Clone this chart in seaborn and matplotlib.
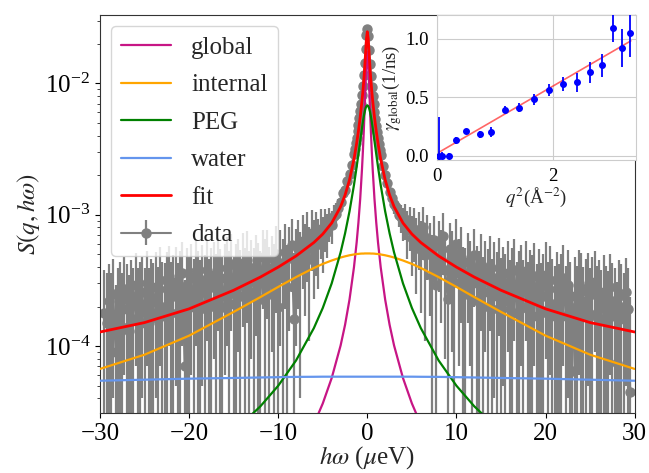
import numpy as np
import matplotlib
matplotlib.use("Agg")
import matplotlib.pyplot as plt
import seaborn as sns

# model curves (symmetric in energy), half grid hw >= 0
curve_x_half = [0, 0.1, 0.2, 0.3, 0.4, 0.5, 0.6, 0.8, 1.0, 1.2, 1.5, 2, 2.5, 3,
                4, 5, 6, 8, 10, 12, 15, 20, 25, 30]
global_half = [1.73e-2, 1.455e-2, 9.86e-3, 6.41e-3, 4.30e-3, 3.03e-3, 2.22e-3,
               1.32e-3, 8.71e-4, 6.14e-4, 3.98e-4, 2.26e-4, 1.45e-4, 1.01e-4,
               5.71e-5, 3.66e-5, 2.54e-5, 1.43e-5, 9.2e-6, 6.4e-6, 4.1e-6,
               2.3e-6, 1.5e-6, 1.0e-6]
internal_half = [5.07e-4, 5.07e-4, 5.07e-4, 5.07e-4, 5.06e-4, 5.06e-4, 5.06e-4,
                 5.05e-4, 5.03e-4, 5.02e-4, 4.98e-4, 4.91e-4, 4.82e-4, 4.72e-4,
                 4.48e-4, 4.22e-4, 3.93e-4, 3.35e-4, 2.82e-4, 2.36e-4, 1.82e-4,
                 1.20e-4, 8.6e-5, 6.7e-5]
peg_half = [6.80e-3, 6.71e-3, 6.45e-3, 6.06e-3, 5.59e-3, 5.08e-3, 4.57e-3,
            3.64e-3, 2.89e-3, 2.31e-3, 1.68e-3, 1.06e-3, 7.20e-4, 5.16e-4,
            3.00e-4, 1.95e-4, 1.37e-4, 7.77e-5, 4.99e-5, 3.48e-5, 2.23e-5,
            1.26e-5, 8.0e-6, 5.6e-6]
water_half = [5.85e-5, 5.85e-5, 5.85e-5, 5.85e-5, 5.85e-5, 5.85e-5, 5.85e-5,
              5.85e-5, 5.85e-5, 5.85e-5, 5.85e-5, 5.85e-5, 5.85e-5, 5.85e-5,
              5.85e-5, 5.85e-5, 5.84e-5, 5.83e-5, 5.80e-5, 5.77e-5, 5.72e-5,
              5.65e-5, 5.55e-5, 5.45e-5]
fit_half = [2.467e-2, 2.183e-2, 1.688e-2, 1.304e-2, 1.046e-2, 8.68e-3, 7.36e-3,
            5.52e-3, 4.32e-3, 3.49e-3, 2.64e-3, 1.84e-3, 1.41e-3, 1.15e-3,
            8.64e-4, 7.12e-4, 6.14e-4, 4.85e-4, 3.99e-4, 3.35e-4, 2.66e-4,
            1.92e-4, 1.51e-4, 1.28e-4]

# measured spectrum: left wing, centre, right wing
left_x = [-29.5, -29.25, -29, -28.75, -28.5, -28.25, -28, -27.75,
          -27.5, -27.25, -27, -26.75, -26.5, -26.25, -26, -25.75,
          -25.5, -25.25, -25, -24.75, -24.5, -24.25, -24, -23.75,
          -23.5, -23.25, -23, -22.75, -22.5, -22.25, -22, -21.75,
          -21.5, -21.25, -21, -20.75, -20.5, -20.25, -20, -19.75,
          -19.5, -19.25, -19, -18.75, -18.5, -18.25, -18, -17.75,
          -17.5, -17.25, -17, -16.75, -16.5, -16.25, -16, -15.75,
          -15.5, -15.25, -15, -14.75, -14.5, -14.25, -14, -13.75,
          -13.5, -13.25, -13, -12.75, -12.5, -12.25, -12, -11.75,
          -11.5, -11.25, -11, -10.75, -10.5, -10.25, -10, -9.75,
          -9.5, -9.25, -9, -8.75, -8.5, -8.25, -8, -7.75,
          -7.5, -7.25, -7, -6.75, -6.5, -6.25, -6, -5.75,
          -5.5, -5.25, -5, -4.75, -4.5, -4.25, -4, -3.75,
          -3.5, -3.25]
left_y = [1.8e-4, 1.5e-4, 2.2e-4, 1.4e-4, 2.5e-4, 9.0e-5, 1.7e-4, 2.3e-4,
          1.4e-4, 2.7e-4, 1.9e-4, 1.3e-4, 2.4e-4, 1.6e-4, 2.9e-4, 1.6e-4,
          2.1e-4, 2.6e-4, 1.5e-4, 3.0e-4, 1.5e-4, 2.3e-4, 1.8e-4, 2.8e-4,
          1.6e-4, 3.2e-4, 2.0e-4, 1.7e-4, 2.7e-4, 3.4e-4, 1.8e-4, 2.4e-4,
          3.1e-4, 1.8e-4, 2.6e-4, 3.6e-4, 7.0e-5, 2.9e-4, 2.2e-4, 3.3e-4,
          2.0e-4, 3.7e-4, 2.5e-4, 1.9e-4, 3.2e-4, 2.1e-4, 3.8e-4, 2.0e-4,
          2.8e-4, 3.5e-4, 2.2e-4, 4.0e-4, 2.6e-4, 2.0e-4, 3.3e-4, 3.9e-4,
          2.5e-4, 4.2e-4, 2.1e-4, 3.1e-4, 3.7e-4, 2.4e-4, 4.3e-4, 2.8e-4,
          4.5e-4, 2.4e-4, 3.6e-4, 2.6e-4, 4.1e-4, 3.0e-4, 2.3e-4, 4.8e-4,
          3.4e-4, 4.6e-4, 2.5e-4, 3.9e-4, 2.9e-4, 5.0e-4, 2.0e-4, 4.3e-4,
          3.3e-4, 5.2e-4, 2.8e-4, 4.7e-4, 5.9e-4, 1.6e-4, 4.4e-4, 5.5e-4,
          3.9e-4, 6.3e-4, 5.1e-4, 6.8e-4, 4.6e-4, 7.3e-4, 5.7e-4, 6.9e-4,
          6.0e-4, 7.8e-4, 6.6e-4, 8.1e-4, 7.4e-4, 8.7e-4, 8.3e-4, 9.8e-4,
          1.02e-3, 1.12e-3]
left_err = [2.0e-4, 2.1e-4, 2.0e-4, 2.2e-4, 2.1e-4, 2.0e-4, 2.2e-4, 2.1e-4,
            2.2e-4, 2.1e-4, 2.3e-4, 2.2e-4, 2.1e-4, 2.3e-4, 2.2e-4, 2.3e-4,
            2.3e-4, 2.2e-4, 2.4e-4, 2.3e-4, 2.4e-4, 2.3e-4, 2.5e-4, 2.4e-4,
            2.4e-4, 2.5e-4, 2.4e-4, 2.6e-4, 2.5e-4, 2.4e-4, 2.6e-4, 2.5e-4,
            2.6e-4, 2.5e-4, 2.7e-4, 2.6e-4, 2.5e-4, 2.7e-4, 2.6e-4, 2.7e-4,
            2.6e-4, 2.7e-4, 2.8e-4, 2.6e-4, 2.7e-4, 2.8e-4, 2.7e-4, 2.6e-4,
            2.8e-4, 2.7e-4, 2.8e-4, 2.7e-4, 2.9e-4, 2.8e-4, 2.7e-4, 2.9e-4,
            2.8e-4, 2.9e-4, 2.7e-4, 2.9e-4, 2.8e-4, 3.0e-4, 2.9e-4, 2.8e-4,
            3.0e-4, 2.9e-4, 2.8e-4, 3.0e-4, 2.9e-4, 3.1e-4, 3.0e-4, 2.9e-4,
            3.1e-4, 3.0e-4, 3.2e-4, 3.0e-4, 3.1e-4, 3.2e-4, 3.0e-4, 3.3e-4,
            3.2e-4, 3.3e-4, 3.1e-4, 3.4e-4, 3.3e-4, 3.5e-4, 3.4e-4, 3.6e-4,
            3.5e-4, 3.6e-4, 3.4e-4, 3.7e-4, 3.5e-4, 3.6e-4, 3.4e-4, 3.5e-4,
            3.3e-4, 3.2e-4, 3.0e-4, 2.9e-4, 2.7e-4, 2.5e-4, 2.3e-4, 2.1e-4,
            2.0e-4, 1.9e-4]

mid_x = [-3, -2.75, -2.5, -2.25, -2, -1.75, -1.5, -1.4, -1.3, -1.2, -1.1, -1.0,
         -0.9, -0.8, -0.7, -0.6, -0.5, -0.4, -0.3, -0.2, -0.1, 0, 0.1, 0.2, 0.3,
         0.4, 0.5, 0.6, 0.7, 0.8, 0.9, 1.0, 1.1, 1.2, 1.3, 1.4, 1.5, 1.75, 2.0,
         2.25, 2.5, 2.75, 3.0]
mid_y = [1.25e-3, 1.45e-3, 1.55e-3, 1.8e-3, 2.05e-3, 2.4e-3, 2.9e-3, 3.15e-3,
         3.5e-3, 3.85e-3, 4.3e-3, 4.8e-3, 5.4e-3, 6.1e-3, 7.0e-3, 8.1e-3, 9.6e-3,
         1.15e-2, 1.42e-2, 1.83e-2, 2.32e-2, 2.6e-2, 2.28e-2, 1.8e-2, 1.4e-2,
         1.13e-2, 9.4e-3, 8.0e-3, 6.9e-3, 6.0e-3, 5.35e-3, 4.75e-3, 4.25e-3,
         3.8e-3, 3.45e-3, 3.1e-3, 2.85e-3, 2.35e-3, 2.0e-3, 1.75e-3, 1.5e-3,
         1.35e-3, 1.2e-3]
mid_err = [1.8e-4, 1.7e-4, 1.6e-4, 1.6e-4, 1.5e-4, 1.6e-4, 1.7e-4, 1.8e-4,
           1.8e-4, 2.0e-4, 2.0e-4, 2.2e-4, 2.4e-4, 2.6e-4, 2.8e-4, 3.0e-4, 3.2e-4,
           3.5e-4, 4.0e-4, 4.5e-4, 5.0e-4, 5.0e-4, 5.0e-4, 4.5e-4, 4.0e-4, 3.5e-4,
           3.2e-4, 3.0e-4, 2.8e-4, 2.6e-4, 2.4e-4, 2.2e-4, 2.0e-4, 2.0e-4, 1.8e-4,
           1.8e-4, 1.7e-4, 1.6e-4, 1.5e-4, 1.6e-4, 1.6e-4, 1.7e-4, 1.8e-4]

right_x = [3.25, 3.5, 3.75, 4, 4.25, 4.5, 4.75, 5,
           5.25, 5.5, 5.75, 6, 6.25, 6.5, 6.75, 7,
           7.25, 7.5, 7.75, 8, 8.25, 8.5, 8.75, 9,
           9.25, 9.5, 9.75, 10, 10.25, 10.5, 10.75, 11,
           11.25, 11.5, 11.75, 12, 12.25, 12.5, 12.75, 13,
           13.25, 13.5, 13.75, 14, 14.25, 14.5, 14.75, 15,
           15.25, 15.5, 15.75, 16, 16.25, 16.5, 16.75, 17,
           17.25, 17.5, 17.75, 18, 18.25, 18.5, 18.75, 19,
           19.25, 19.5, 19.75, 20, 20.25, 20.5, 20.75, 21,
           21.25, 21.5, 21.75, 22, 22.25, 22.5, 22.75, 23,
           23.25, 23.5, 23.75, 24, 24.25, 24.5, 24.75, 25,
           25.25, 25.5, 25.75, 26, 26.25, 26.5, 26.75, 27,
           27.25, 27.5, 27.75, 28, 28.25, 28.5, 28.75, 29,
           29.25, 29.5]
right_y = [1.15e-3, 1.0e-3, 9.6e-4, 8.8e-4, 9.2e-4, 7.6e-4, 8.4e-4, 6.6e-4,
           7.8e-4, 6.0e-4, 7.1e-4, 5.4e-4, 8.0e-4, 4.9e-4, 6.6e-4, 5.2e-4,
           3.4e-4, 6.4e-4, 2.9e-4, 5.8e-4, 4.6e-4, 6.9e-4, 3.8e-4, 2.3e-4,
           5.5e-4, 4.2e-4, 3.1e-4, 6.0e-4, 3.6e-4, 4.8e-4, 2.7e-4, 2.5e-4,
           4.4e-4, 3.5e-4, 2.2e-4, 4.9e-4, 3.0e-4, 2.3e-4, 4.2e-4, 2.0e-4,
           3.6e-4, 2.6e-4, 4.1e-4, 1.9e-4, 3.3e-4, 2.4e-4, 3.9e-4, 2.1e-4,
           3.1e-4, 2.2e-4, 3.6e-4, 1.9e-4, 2.8e-4, 3.8e-4, 1.8e-4, 2.6e-4,
           3.3e-4, 2.0e-4, 3.7e-4, 1.9e-4, 2.7e-4, 2.3e-4, 3.4e-4, 1.7e-4,
           2.9e-4, 1.8e-4, 2.4e-4, 3.5e-4, 1.9e-4, 3.2e-4, 2.1e-4, 1.7e-4,
           2.7e-4, 1.8e-4, 2.5e-4, 3.3e-4, 1.7e-4, 2.9e-4, 2.0e-4, 6.5e-5,
           2.4e-4, 1.8e-4, 3.0e-4, 2.6e-4, 1.7e-4, 2.2e-4, 2.8e-4, 1.7e-4,
           2.5e-4, 3.1e-4, 1.8e-4, 2.1e-4, 1.6e-4, 2.6e-4, 1.9e-4, 1.6e-4,
           2.8e-4, 2.2e-4, 1.7e-4, 7.5e-5, 2.4e-4, 2.0e-4, 1.6e-4, 2.6e-4,
           1.9e-4, 4.5e-5]
right_err = [1.8e-4, 2.0e-4, 2.3e-4, 2.5e-4, 2.8e-4, 3.0e-4, 3.1e-4, 3.2e-4,
             3.4e-4, 3.5e-4, 3.3e-4, 3.6e-4, 3.5e-4, 3.8e-4, 3.4e-4, 3.5e-4,
             3.6e-4, 3.3e-4, 3.5e-4, 3.2e-4, 3.1e-4, 3.4e-4, 3.0e-4, 3.2e-4,
             3.1e-4, 3.3e-4, 3.0e-4, 3.2e-4, 2.9e-4, 3.3e-4, 3.0e-4, 3.1e-4,
             2.9e-4, 2.8e-4, 3.0e-4, 2.9e-4, 2.8e-4, 3.0e-4, 2.9e-4, 2.8e-4,
             2.7e-4, 2.9e-4, 2.8e-4, 2.7e-4, 2.9e-4, 2.8e-4, 2.7e-4, 2.6e-4,
             2.6e-4, 2.8e-4, 2.7e-4, 2.6e-4, 2.8e-4, 2.7e-4, 2.6e-4, 2.7e-4,
             2.6e-4, 2.5e-4, 2.6e-4, 2.5e-4, 2.7e-4, 2.6e-4, 2.7e-4, 2.5e-4,
             2.6e-4, 2.5e-4, 2.6e-4, 2.7e-4, 2.5e-4, 2.6e-4, 2.5e-4, 2.4e-4,
             2.5e-4, 2.4e-4, 2.5e-4, 2.6e-4, 2.4e-4, 2.5e-4, 2.4e-4, 2.3e-4,
             2.4e-4, 2.3e-4, 2.4e-4, 2.5e-4, 2.3e-4, 2.4e-4, 2.3e-4, 2.2e-4,
             2.3e-4, 2.2e-4, 2.3e-4, 2.4e-4, 2.2e-4, 2.3e-4, 2.2e-4, 2.1e-4,
             2.2e-4, 2.1e-4, 2.2e-4, 2.3e-4, 2.1e-4, 2.2e-4, 2.0e-4, 2.1e-4,
             2.0e-4, 1.9e-4]

# inset: global relaxation rate vs q^2
q2 = [0.02, 0.08, 0.20, 0.32, 0.50, 0.74, 0.93, 1.17, 1.42, 1.68, 1.93, 2.18,
      2.42, 2.65, 2.85, 3.04, 3.20, 3.34]
gamma = [0.0, 0.0, 0.0, 0.13, 0.21, 0.18, 0.20, 0.39, 0.41, 0.48, 0.56, 0.61,
         0.625, 0.71, 0.77, 1.09, 0.92, 1.045]
gamma_err = [0.33, 0.03, 0.02, 0.03, 0.02, 0.03, 0.04, 0.03, 0.04, 0.05, 0.05,
             0.06, 0.08, 0.09, 0.10, 0.12, 0.16, 0.20]
line_q2 = [0.0, 3.35]
line_gamma = [0.02, 0.98]


def mirror(half, neg=False):
    left = [-v for v in half[:0:-1]] if neg else list(half[:0:-1])
    return left + list(half)


curve_x = mirror(curve_x_half, neg=True)
data_x = left_x + mid_x + right_x
data_y = left_y + mid_y + right_y
data_err = left_err + mid_err + right_err

serif = ['Liberation Serif', 'DejaVu Serif']
sns.set_style("ticks")
plt.rcParams['font.family'] = serif
plt.rcParams['mathtext.fontset'] = 'stix'

fig = plt.figure(figsize=(6.49, 4.73), dpi=100)
ax = fig.add_axes([0.154, 0.127, 0.824, 0.841])

# data drawn as connected points with error bars
ax.errorbar(data_x, data_y, yerr=data_err, fmt='-o', color='gray', ms=6.5,
            lw=1.5, elinewidth=1.6, label='data', zorder=1)

sns.lineplot(x=curve_x, y=mirror(global_half), color='mediumvioletred', lw=1.6,
             label='global', ax=ax, zorder=3)
sns.lineplot(x=curve_x, y=mirror(internal_half), color='orange', lw=1.6,
             label='internal', ax=ax, zorder=3)
sns.lineplot(x=curve_x, y=mirror(peg_half), color='green', lw=1.6,
             label='PEG', ax=ax, zorder=3)
sns.lineplot(x=curve_x, y=mirror(water_half), color='cornflowerblue', lw=1.6,
             label='water', ax=ax, zorder=3)
sns.lineplot(x=curve_x, y=mirror(fit_half), color='red', lw=2.0,
             label='fit', ax=ax, zorder=4)

ax.set_yscale('log')
ax.set_xlim(-30, 30)
ax.set_ylim(3.1e-5, 3.3e-2)
ax.set_xticks([-30, -20, -10, 0, 10, 20, 30])
ax.tick_params(labelsize=18, colors='black')
ax.set_xlabel(r'$h\omega$ ($\mu$eV)', fontsize=18, labelpad=0)
ax.set_ylabel(r'$S(q,h\omega)$', fontsize=18, labelpad=2)
for s in ax.spines.values():
    s.set_color('#333333')

ax.legend(loc='upper left', fontsize=18, framealpha=0.8, handlelength=2.0,
          labelspacing=0.6, borderaxespad=0.45)

with sns.axes_style("whitegrid", rc={'font.family': serif}):
    ax_in = fig.add_axes([0.673, 0.662, 0.307, 0.306])
ax_in.set_facecolor('white')
ax_in.errorbar(q2, gamma, yerr=gamma_err, fmt='o', color='blue', ms=4,
               elinewidth=1.3, zorder=3)
sns.lineplot(x=line_q2, y=line_gamma, color='red', alpha=0.6, lw=1.2, ax=ax_in)
ax_in.set_xlim(-0.01, 3.44)
ax_in.set_ylim(-0.037, 1.2)
ax_in.set_xticks([0, 2])
ax_in.set_yticks([0.0, 0.5, 1.0])
ax_in.tick_params(labelsize=13.5, colors='black', pad=2)
ax_in.set_xlabel(r'$q^2$(Å$^{-2}$)', fontsize=13.5, labelpad=1)
ax_in.set_ylabel(r'$\gamma_{\rm global}$(1/ns)', fontsize=13.5, labelpad=1)

fig.savefig('out.png', dpi=100)
